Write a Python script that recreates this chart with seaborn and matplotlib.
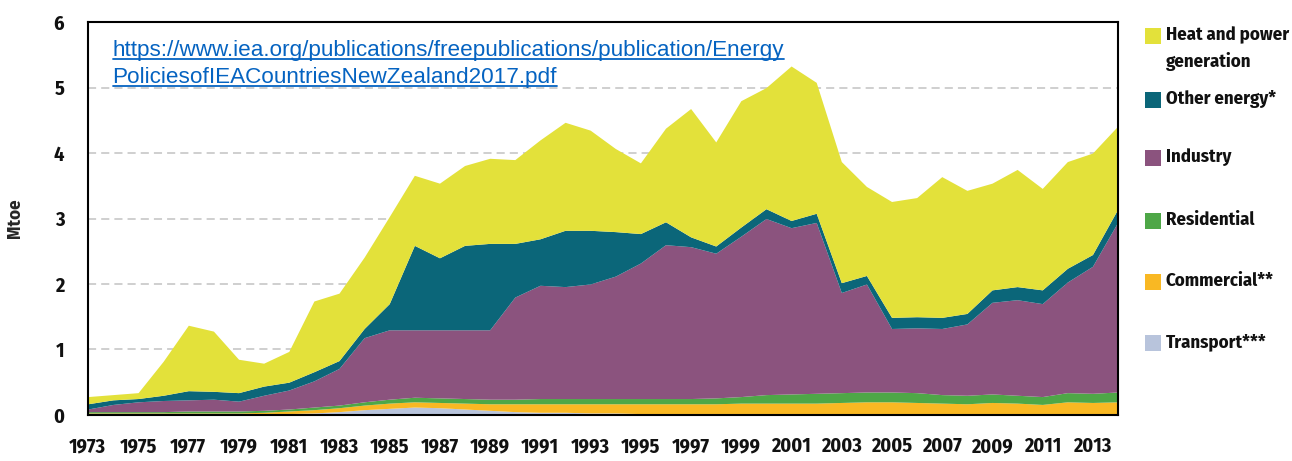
import matplotlib
matplotlib.use("Agg")
import matplotlib.pyplot as plt
import seaborn as sns
from matplotlib.patches import Rectangle
from matplotlib.lines import Line2D

years = list(range(1973, 2015))

transport = [0.01, 0.01, 0.01, 0.01, 0.01, 0.01, 0.01, 0.01, 0.02, 0.03,
             0.05, 0.08, 0.10, 0.12, 0.11, 0.09, 0.07, 0.05, 0.04, 0.04,
             0.03, 0.03, 0.02, 0.02, 0.01, 0.01, 0.00, 0.00, 0.00, 0.00,
             0.00, 0.00, 0.00, 0.00, 0.00, 0.00, 0.00, 0.00, 0.00, 0.00,
             0.00, 0.00]
commercial = [0.02, 0.02, 0.02, 0.02, 0.02, 0.02, 0.02, 0.03, 0.04, 0.05,
              0.06, 0.07, 0.08, 0.08, 0.08, 0.09, 0.10, 0.12, 0.13, 0.13,
              0.14, 0.14, 0.15, 0.15, 0.16, 0.16, 0.18, 0.18, 0.18, 0.18,
              0.19, 0.20, 0.20, 0.19, 0.18, 0.17, 0.19, 0.18, 0.16, 0.20,
              0.19, 0.20]
residential = [0.02, 0.02, 0.02, 0.02, 0.03, 0.03, 0.03, 0.03, 0.03, 0.04,
               0.04, 0.05, 0.06, 0.07, 0.07, 0.07, 0.07, 0.07, 0.08, 0.08,
               0.08, 0.08, 0.08, 0.08, 0.08, 0.09, 0.10, 0.13, 0.14, 0.15,
               0.15, 0.15, 0.15, 0.15, 0.13, 0.13, 0.13, 0.12, 0.12, 0.14,
               0.14, 0.15]
industry = [0.04, 0.11, 0.15, 0.17, 0.17, 0.18, 0.15, 0.23, 0.29, 0.40,
            0.56, 0.98, 1.06, 1.03, 1.04, 1.05, 1.06, 1.56, 1.73, 1.71,
            1.75, 1.87, 2.07, 2.35, 2.32, 2.21, 2.45, 2.69, 2.54, 2.61,
            1.53, 1.65, 0.97, 0.99, 1.01, 1.09, 1.40, 1.46, 1.42, 1.69,
            1.94, 2.59]
other_energy = [0.08, 0.07, 0.05, 0.08, 0.14, 0.12, 0.13, 0.14, 0.12, 0.14,
                0.12, 0.14, 0.40, 1.29, 1.10, 1.29, 1.32, 0.82, 0.71, 0.86,
                0.82, 0.68, 0.45, 0.35, 0.15, 0.11, 0.14, 0.15, 0.11, 0.14,
                0.15, 0.13, 0.17, 0.17, 0.17, 0.16, 0.19, 0.20, 0.21, 0.21,
                0.18, 0.20]
heat_power = [0.11, 0.08, 0.09, 0.52, 1.00, 0.92, 0.51, 0.35, 0.47, 1.08,
              1.03, 1.09, 1.33, 1.07, 1.14, 1.22, 1.30, 1.28, 1.51, 1.65,
              1.53, 1.27, 1.08, 1.43, 1.96, 1.59, 1.93, 1.85, 2.36, 2.00,
              1.85, 1.36, 1.77, 1.82, 2.15, 1.88, 1.63, 1.79, 1.55, 1.63,
              1.55, 1.27]

series = [transport, commercial, residential, industry, other_energy, heat_power]
colors = ["#b8c4dc", "#f9b823", "#4ea747", "#8b537e", "#0b6679", "#e3e13a"]

legend_labels = ["Heat and power\ngeneration", "Other energy*", "Industry",
                 "Residential", "Commercial**", "Transport***"]
legend_colors = ["#e3e13a", "#0b6679", "#8b537e", "#4ea747", "#f9b823", "#b8c4dc"]

url_text = ("https://www.iea.org/publications/freepublications/publication/Energy",
            "PoliciesofIEACountriesNewZealand2017.pdf")

sns.set_style("white")
plt.rcParams['font.family'] = ['Fira Sans Condensed', 'Liberation Sans', 'DejaVu Sans']

fig = plt.figure(figsize=(12.92, 4.61), dpi=100)
ax = fig.add_axes([0.068, 0.1, 0.797, 0.852])

ax.stackplot(years, *series, colors=colors, linewidth=0, zorder=2)

ax.set_xlim(1973, 2014)
ax.set_ylim(0, 6)
ax.set_yticks(range(7))
ax.set_xticks(range(1973, 2014, 2))

# dashed gridlines behind the areas
for yv in range(1, 6):
    ax.axhline(yv, color="#cccccc", lw=1.3, ls=(0, (4.5, 2.8)), zorder=0)

ax.tick_params(axis="both", direction="in", length=9, width=1.3,
               color="black", labelsize=14.5, zorder=5)
ax.tick_params(axis="y", pad=17)
ax.tick_params(axis="x", pad=16)
for lab in ax.get_xticklabels() + ax.get_yticklabels():
    lab.set_fontweight("bold")
    lab.set_color("#111111")

for sp in ax.spines.values():
    sp.set_color("black")
    sp.set_linewidth(1.5)
    sp.set_zorder(6)

ax.set_ylabel("Mtoe", fontsize=13.5, fontweight="bold")
ax.yaxis.set_label_coords(-0.062, 0.5)

# source link
url_font = ["Liberation Sans", "DejaVu Sans"]
texts = []
for i, line in enumerate(url_text):
    t = ax.text(0.024, 0.913 - i * 0.069, line, transform=ax.transAxes,
                fontsize=16.2, color="#0563c1", family=url_font,
                ha="left", va="baseline", zorder=7)
    texts.append(t)
fig.canvas.draw()
renderer = fig.canvas.get_renderer()
inv = fig.transFigure.inverted()
for t in texts:
    bb = t.get_window_extent(renderer=renderer)
    x0, y0 = inv.transform((bb.x0, bb.y0 + 2))
    x1, _ = inv.transform((bb.x1, bb.y0 + 2))
    fig.add_artist(Line2D([x0, x1], [y0, y0], transform=fig.transFigure,
                          color="#0563c1", lw=1.3))

# legend on the right
legend_y = [36, 100, 158, 221, 282, 343]
for lab, col, yp in zip(legend_labels, legend_colors, legend_y):
    yf = 1 - yp / 461
    fig.add_artist(Rectangle((1145 / 1292, yf - 8 / 461), 16 / 1292, 16 / 461,
                             transform=fig.transFigure, color=col, lw=0))
    fig.text(1166 / 1292, yf + 10 / 461, lab, fontsize=13.5, fontweight="bold",
             va="top", ha="left", color="#111111", linespacing=1.55)

fig.savefig("out.png", dpi=100)
